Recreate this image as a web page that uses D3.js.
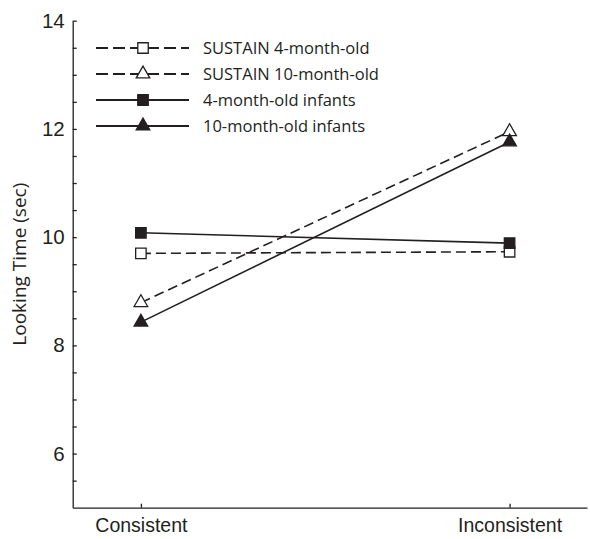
<!DOCTYPE html>
<html>
<head>
<meta charset="utf-8">
<script src="https://cdn.jsdelivr.net/npm/d3@7"></script>
<style>
  body { margin: 0; background: #fff; }
  svg { display: block; font-family: "Open Sans", sans-serif; }
  .axis path, .axis line { stroke: #231f20; stroke-width: 1.3; }
  .axis text { fill: #231f20; font-size: 19.5px; }
  .axis.y text { font-size: 20.5px; }
</style>
</head>
<body>
<div id="chart"></div>
<script>
var conditions = ["Consistent", "Inconsistent"];
var seriesNames = ["SUSTAIN 4-month-old", "SUSTAIN 10-month-old", "4-month-old infants", "10-month-old infants"];
var sustain4 = [9.70, 9.73];
var sustain10 = [8.79, 11.95];
var infants4 = [10.08, 9.89];
var infants10 = [8.43, 11.76];
var yTicks = [5.5, 6, 6.5, 7, 7.5, 8, 8.5, 9, 9.5, 10, 10.5, 11, 11.5, 12, 12.5, 13, 13.5, 14];
var yLabels = [6, 8, 10, 12, 14];

var chart = (function (d3) {
  var width = 590, height = 539;
  var ink = "#231f20";

  var svg = d3.select("#chart").append("svg")
    .attr("width", width)
    .attr("height", height);

  // x: two conditions, axis runs wider than the points
  var x = d3.scaleLinear().domain([-0.185, 1.21]).range([72.7, 587]);
  var y = d3.scaleLinear().domain([5, 14]).range([507.7, 20.7]);

  var styles = [
    { values: sustain4, dash: "10,5", shape: d3.symbolSquare, fill: "#fff", size: 110 },
    { values: sustain10, dash: "10,5", shape: d3.symbolTriangle, fill: "#fff", size: 80 },
    { values: infants4, dash: null, shape: d3.symbolSquare, fill: ink, size: 110 },
    { values: infants10, dash: null, shape: d3.symbolTriangle, fill: ink, size: 80 }
  ];

  svg.append("g")
    .attr("class", "axis y")
    .attr("transform", "translate(" + x.range()[0] + ",0)")
    .call(d3.axisLeft(y)
      .tickValues(yTicks)
      .tickSizeInner(-4)
      .tickSizeOuter(0)
      .tickPadding(8)
      .tickFormat(function (d) { return yLabels.indexOf(d) >= 0 ? d : ""; }));

  svg.append("g")
    .attr("class", "axis x")
    .attr("transform", "translate(0," + y.range()[0] + ")")
    .call(d3.axisBottom(x)
      .tickValues([0, 1])
      .tickSizeInner(-4)
      .tickSizeOuter(0)
      .tickPadding(10)
      .tickFormat(function (d) { return conditions[d]; }));

  svg.append("text")
    .attr("transform", "translate(26," + y(9.5) + ") rotate(-90)")
    .attr("text-anchor", "middle")
    .attr("fill", ink)
    .attr("font-size", 19)
    .text("Looking Time (sec)");

  var line = d3.line()
    .x(function (d, i) { return x(i); })
    .y(function (d) { return y(d); });

  styles.forEach(function (s) {
    svg.append("path")
      .datum(s.values)
      .attr("d", line)
      .attr("fill", "none")
      .attr("stroke", ink)
      .attr("stroke-width", 1.6)
      .attr("stroke-dasharray", s.dash);
  });

  // markers drawn after lines; filled ones on top
  [0, 1, 2, 3].forEach(function (k) {
    var s = styles[k];
    svg.selectAll(null)
      .data(s.values)
      .enter().append("path")
      .attr("transform", function (d, i) { return "translate(" + x(i) + "," + y(d) + ")"; })
      .attr("d", d3.symbol().type(s.shape).size(s.size))
      .attr("fill", s.fill)
      .attr("stroke", ink)
      .attr("stroke-width", 1.3);
  });

  // legend
  var legend = svg.append("g").attr("transform", "translate(96,48)");
  styles.forEach(function (s, i) {
    var row = legend.append("g").attr("transform", "translate(0," + i * 26 + ")");
    row.append("line")
      .attr("x1", 0).attr("x2", 93)
      .attr("stroke", ink)
      .attr("stroke-width", 2)
      .attr("stroke-dasharray", s.dash ? "12,5" : null);
    row.append("path")
      .attr("transform", "translate(47,0)")
      .attr("d", d3.symbol().type(s.shape).size(s.size))
      .attr("fill", s.fill)
      .attr("stroke", ink)
      .attr("stroke-width", 1.3);
    row.append("text")
      .attr("x", 107)
      .attr("dy", "0.35em")
      .attr("fill", ink)
      .style("font-size", "16.5px")
      .text(seriesNames[i]);
  });

  return svg;
})(d3);
</script>
</body>
</html>
